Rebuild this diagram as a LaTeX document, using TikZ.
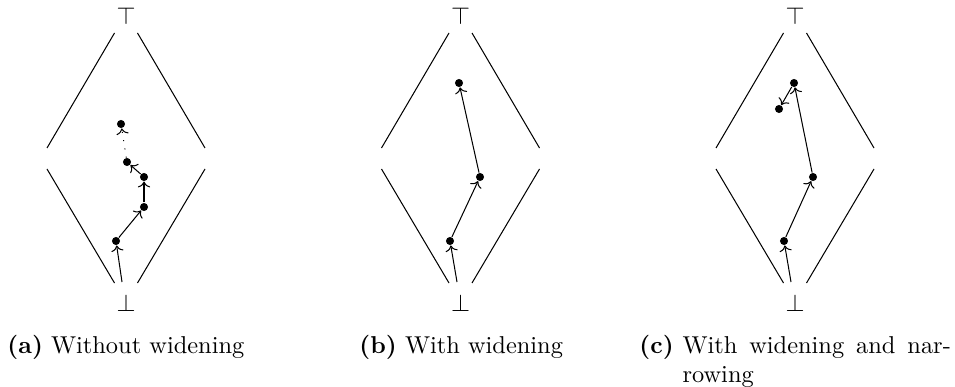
\documentclass[tikz,border=0pt]{standalone}
\usetikzlibrary{arrows.meta}
\begin{document}
\begin{tikzpicture}[x=0.4098pt,y=-0.4098pt,
  dot/.style={circle,fill=black,inner sep=0pt,minimum size=3.3pt},
  arr/.style={-{To[scale=0.95]},line width=0.42pt},
  side/.style={line width=0.42pt},
  sym/.style={inner sep=0pt},
  captext/.style={anchor=base west,inner sep=0pt,font=\normalsize}]
\useasboundingbox (0,0) rectangle (955,387);
% diamonds
\foreach \c in {126,460.5,795}{
  \draw[side] (\c-11.5,33) -- (\c-79,148);
  \draw[side] (\c+11.5,33) -- (\c+79,148);
  \draw[side] (\c-79,169) -- (\c-11.5,283);
  \draw[side] (\c+79,169) -- (\c+11.5,283);
}
% panel (a)
\node[sym] (topa) at (126,16) {$\top$};
\node[sym] (bota) at (126,303) {$\bot$};
\coordinate (sa) at (122,282);
\node[dot] (a1) at (116,241) {};
\node[dot] (a2) at (144,207) {};
\node[dot] (a3) at (144,177) {};
\node[dot] (a4) at (127,162) {};
\node[dot] (a5) at (121,124) {};
\draw[arr] (sa) -- (a1);
\draw[arr] (a1) -- (a2);
\draw[arr] (a2) -- (a3);
\draw[arr] (a3) -- (a4);
\draw[arr,dash pattern=on 0.4pt off 3pt] (a4) -- (a5);
% panel (b)
\node[sym] (topb) at (460.5,16) {$\top$};
\node[sym] (botb) at (460.5,303) {$\bot$};
\coordinate (sb) at (457,282);
\node[dot] (b1) at (450,241) {};
\node[dot] (b2) at (480,177) {};
\node[dot] (b3) at (459,83) {};
\draw[arr] (sb) -- (b1);
\draw[arr] (b1) -- (b2);
\draw[arr] (b2) -- (b3);
% panel (c)
\node[sym] (topc) at (795,16) {$\top$};
\node[sym] (botc) at (795,303) {$\bot$};
\coordinate (sc) at (791,282);
\node[dot] (c1) at (784,241) {};
\node[dot] (c2) at (813,177) {};
\node[dot] (c3) at (794,83) {};
\node[dot] (c4) at (779,109) {};
\draw[arr] (sc) -- (c1);
\draw[arr] (c1) -- (c2);
\draw[arr] (c2) -- (c3);
\draw[arr] (c3) -- (c4);
% captions
\node[captext] (capa) at (7,353) {\textbf{(a)} Without widening};
\node[captext] (capb) at (359,353) {\textbf{(b)} With widening};
\node[captext] (capcl) at (639,353) {\textbf{(c)}};
\node[captext] (capc1) at (682,353) {\makebox[110pt][s]{With widening and nar-}};
\node[captext] (capc2) at (682,382) {rowing};
\end{tikzpicture}
\end{document}
